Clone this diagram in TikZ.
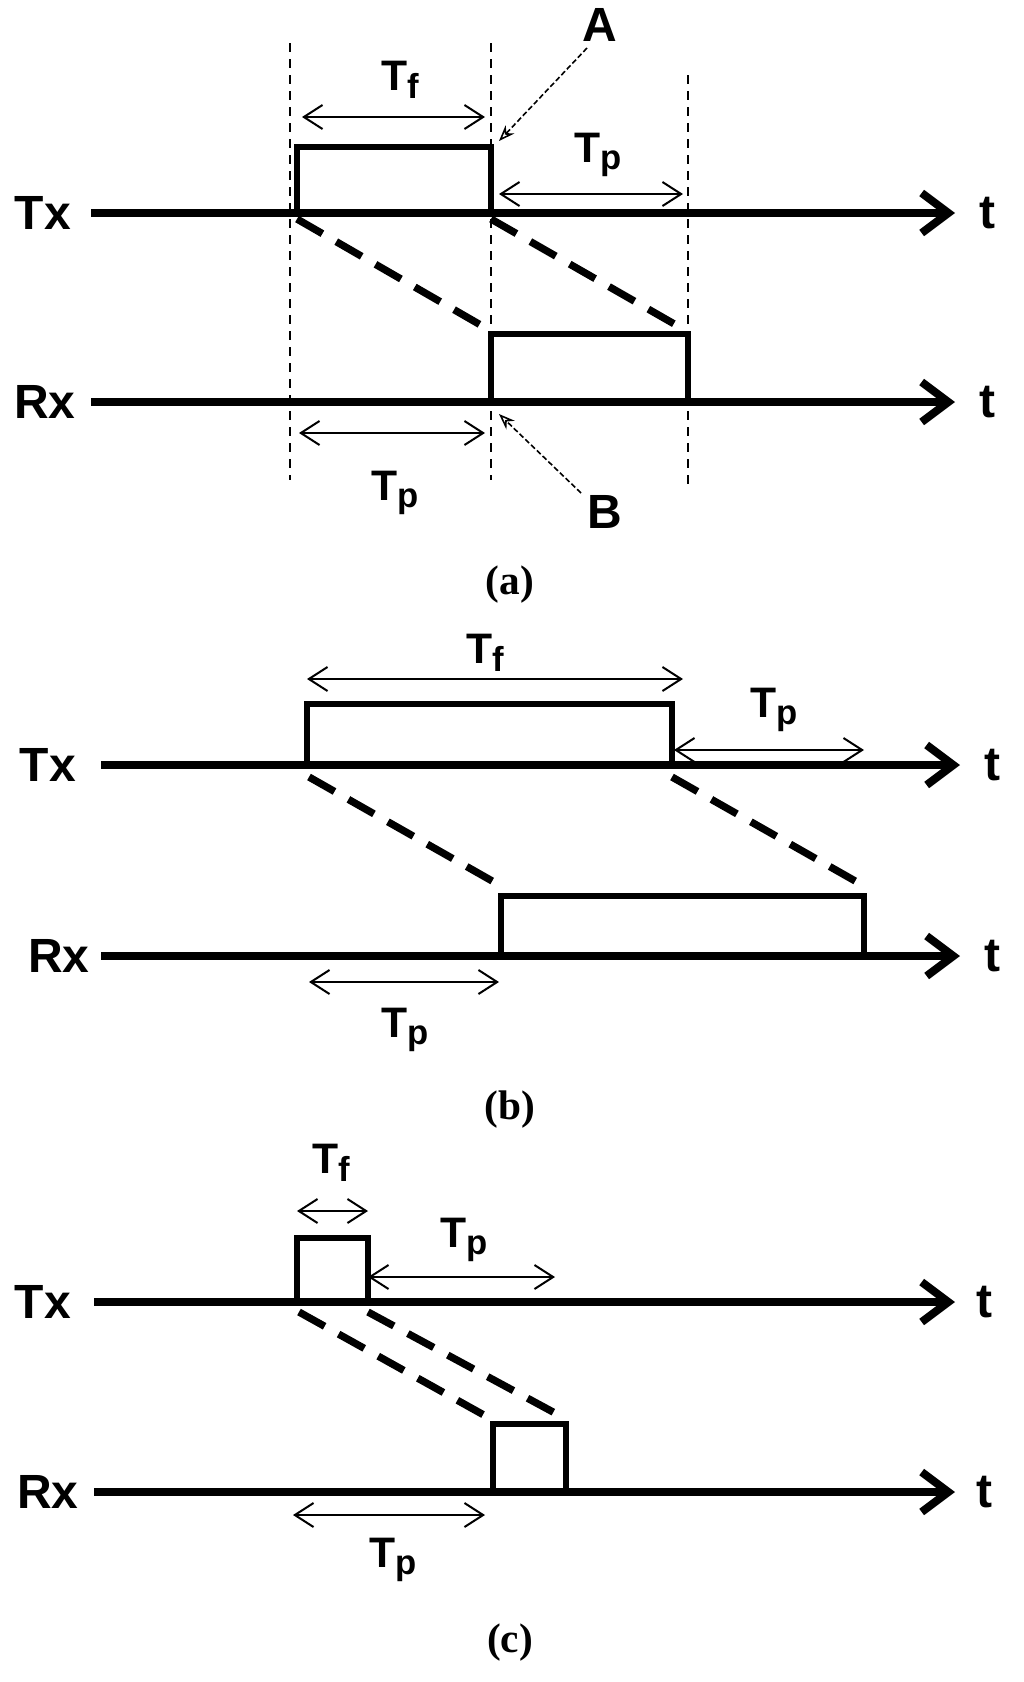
\documentclass[tikz,border=0pt]{standalone}
\usepackage{fontspec}
\setmainfont{Liberation Sans}
\newfontfamily\serifcap{Liberation Serif}
\usetikzlibrary{arrows.meta}
\begin{document}
\begin{tikzpicture}[x=0.75pt,y=-0.75pt,
 axis/.style={line width=6pt,-{Straight Barb[length=20pt,width=30pt,line width=6pt]}},
 box/.style={line width=5pt},
 vd/.style={line width=1.2pt,dash pattern=on 7pt off 5pt},
 diag/.style={line width=5.5pt,dash pattern=on 22pt off 12pt},
 dim/.style={line width=1.5pt,{Straight Barb[length=14pt,width=18pt]}-{Straight Barb[length=14pt,width=18pt]}},
 ptr/.style={line width=1.2pt,dash pattern=on 4pt off 2pt,-{Stealth[length=12pt,width=9pt,open]}},
 lab/.style={font=\bfseries\fontsize{36}{40}\selectfont},
 tl/.style={font=\bfseries\fontsize{32}{36}\selectfont},
 capt/.style={font=\serifcap\bfseries\fontsize{31}{34}\selectfont}]
\useasboundingbox (0,0) rectangle (1024,1682);
\newcommand{\TT}[1]{T\raisebox{-0.18em}{\fontsize{26}{28}\selectfont #1}}
% ---------- (a)
\node[lab] (txa) at (43,213) {Tx};
\node[lab] (rxa) at (45,402) {Rx};
\coordinate (a1) at (91,213); \coordinate (a2) at (955,213);
\coordinate (a3) at (91,402); \coordinate (a4) at (955,402);
\draw[axis] (a1) -- (a2); \draw[axis] (a3) -- (a4);
\node[lab] (ta1) at (987,213) {t}; \node[lab] (ta2) at (987,402) {t};
\draw[box] (297,213) |- (491,147) -- (491,213);
\draw[box] (491,402) |- (688,334) -- (688,402);
\draw[vd] (290,43) -- (290,480);
\draw[vd] (491,43) -- (491,480);
\draw[vd] (688,75) -- (688,485);
\draw[diag] (297,219) -- (491,331);
\draw[diag] (491,219) -- (683,329);
\draw[dim] (302,117) -- (485,117);
\node[tl] (tfa) at (400,80) {\TT{f}};
\draw[dim] (499,194) -- (683,194);
\node[tl] (tpa1) at (598,155) {\TT{p}};
\draw[dim] (299,433) -- (485,433);
\node[tl] (tpa2) at (395,493) {\TT{p}};
\node[lab] (A) at (600,25) {A};
\node[lab] (B) at (605,512) {B};
\coordinate (pa) at (499,141); \coordinate (pb) at (499,414);
\coordinate (sa) at (587,48); \coordinate (sb) at (581,493);
\draw[ptr] (sa) -- (pa);
\draw[ptr] (sb) -- (pb);
\node[capt] (ca) at (510,585) {(a)};
% ---------- (b)
\node[lab] (txb) at (48,765) {Tx};
\node[lab] (rxb) at (59,956) {Rx};
\coordinate (b1) at (101,765); \coordinate (b2) at (960,765);
\coordinate (b3) at (101,956); \coordinate (b4) at (960,956);
\draw[axis] (b1) -- (b2); \draw[axis] (b3) -- (b4);
\node[lab] (tb1) at (992,765) {t}; \node[lab] (tb2) at (992,956) {t};
\draw[box] (307,765) |- (672,704) -- (672,765);
\draw[box] (501,956) |- (864,896) -- (864,956);
\draw[diag] (309,777) -- (501,886);
\draw[diag] (672,777) -- (864,886);
\draw[dim] (307,679) -- (683,679);
\node[tl] (tfb) at (485,653) {\TT{f}};
\draw[dim] (674,750) -- (864,750);
\node[tl] (tpb1) at (774,710) {\TT{p}};
\draw[dim] (309,982) -- (499,982);
\node[tl] (tpb2) at (405,1030) {\TT{p}};
\node[capt] (cb) at (510,1110) {(b)};
% ---------- (c)
\node[lab] (txc) at (43,1302) {Tx};
\node[lab] (rxc) at (48,1492) {Rx};
\coordinate (c1) at (94,1302); \coordinate (c2) at (955,1302);
\coordinate (c3) at (94,1492); \coordinate (c4) at (955,1492);
\draw[axis] (c1) -- (c2); \draw[axis] (c3) -- (c4);
\node[lab] (tc1) at (984,1302) {t}; \node[lab] (tc2) at (984,1492) {t};
\draw[box] (297,1302) |- (368,1238) -- (368,1302);
\draw[box] (493,1492) |- (566,1424) -- (566,1492);
\draw[diag] (299,1312) -- (491,1419);
\draw[diag] (368,1312) -- (566,1419);
\draw[dim] (297,1211) -- (368,1211);
\node[tl] (tfc) at (331,1163) {\TT{f}};
\draw[dim] (368,1277) -- (555,1277);
\node[tl] (tpc1) at (464,1240) {\TT{p}};
\draw[dim] (293,1515) -- (485,1515);
\node[tl] (tpc2) at (393,1560) {\TT{p}};
\node[capt] (cc) at (510,1643) {(c)};
\end{tikzpicture}
\end{document}
